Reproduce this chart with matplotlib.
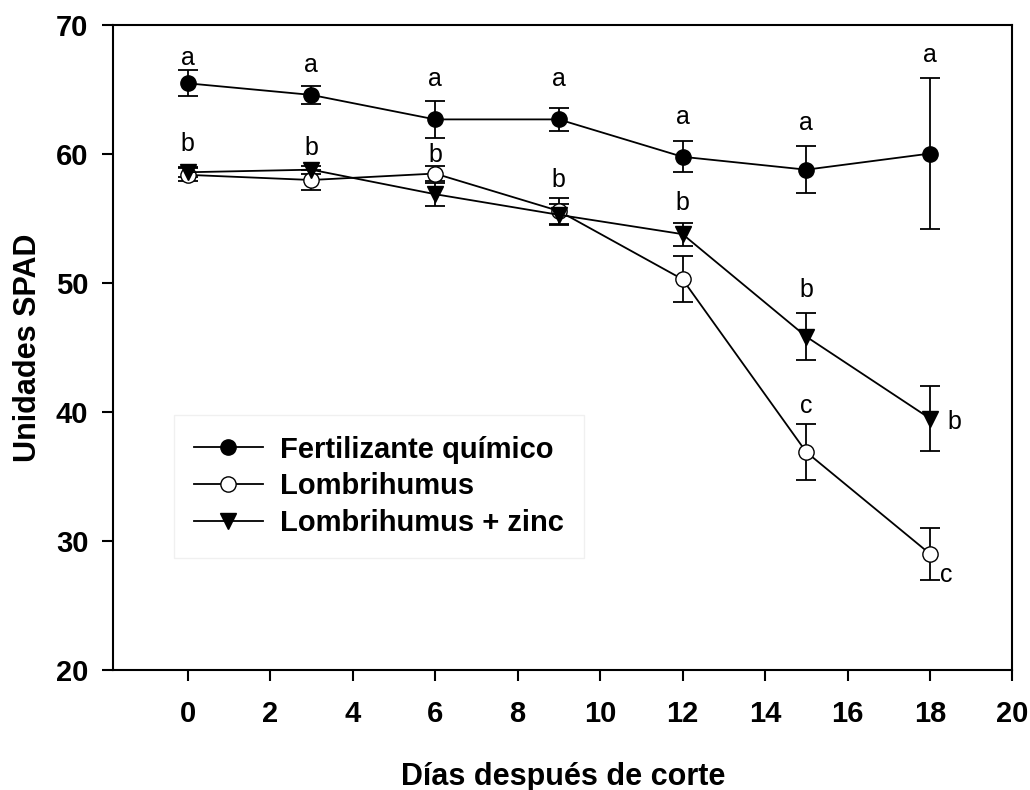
import numpy as np
import matplotlib
matplotlib.use("Agg")
import matplotlib.pyplot as plt

plt.rcParams['font.family'] = ['Liberation Sans', 'DejaVu Sans']

dias = [0, 3, 6, 9, 12, 15, 18]

# Fertilizante quimico
fert = [65.5, 64.6, 62.7, 62.7, 59.8, 58.8, 60.05]
fert_err = [1.0, 0.7, 1.45, 0.9, 1.2, 1.8, 5.85]
# Lombrihumus
lomb = [58.4, 58.0, 58.5, 55.6, 50.3, 36.9, 29.0]
lomb_err = [0.5, 0.8, 0.6, 1.0, 1.8, 2.2, 2.0]
# Lombrihumus + zinc
zinc = [58.6, 58.8, 56.9, 55.3, 53.8, 45.85, 39.5]
zinc_err = [0.4, 0.3, 0.9, 0.8, 0.9, 1.85, 2.5]

nombres = ["Fertilizante químico", "Lombrihumus", "Lombrihumus + zinc"]

# letras de significancia (x, y, letra)
letras_x = [0, 3, 6, 9, 12, 15, 18, 0, 3, 6, 9, 12, 15, 15, 18.6, 18.4]
letras_y = [67.5, 66.9, 65.8, 65.8, 62.9, 62.4, 67.7, 60.8, 60.5, 59.9, 58.0, 56.2, 49.5, 40.5, 39.2, 27.4]
letras = ["a", "a", "a", "a", "a", "a", "a", "b", "b", "b", "b", "b", "b", "c", "b", "c"]

fig = plt.figure(figsize=(10.3, 7.9), dpi=100)
ax = fig.add_axes([0.110, 0.152, 0.873, 0.816])

estilo = dict(color="black", lw=1.3, capsize=7, elinewidth=1.3, capthick=1.3, markersize=11)
ax.errorbar(dias, fert, yerr=fert_err, marker="o", mfc="black", mec="black", label=nombres[0], **estilo)
ax.errorbar(dias, lomb, yerr=lomb_err, marker="o", mfc="white", mec="black", label=nombres[1], **estilo)
ax.errorbar(dias, zinc, yerr=zinc_err, marker="v", mfc="black", mec="black", label=nombres[2], **estilo)

for x, y, t in zip(letras_x, letras_y, letras):
    ax.text(x, y, t, ha="center", va="center", fontsize=18)

ax.set_xlim(-1.8, 20)
ax.set_ylim(20, 70)
ax.set_xticks(np.arange(0, 21, 2))
ax.set_yticks(np.arange(20, 71, 10))
ax.tick_params(direction="out", length=8, width=1.5, pad=10, labelsize=21)
ax.tick_params(axis="x", pad=14)
for lab in ax.get_xticklabels() + ax.get_yticklabels():
    lab.set_fontweight("bold")
for s in ax.spines.values():
    s.set_linewidth(1.5)

ax.set_xlabel("Días después de corte", fontsize=22, fontweight="bold", labelpad=24)
ax.set_ylabel("Unidades SPAD", fontsize=22, fontweight="bold", labelpad=9)

handles, labels = ax.get_legend_handles_labels()
handles = [h[0] for h in handles]
leg = ax.legend(handles, labels, loc="upper left", bbox_to_anchor=(0.067, 0.395),
                prop={"weight": "bold", "size": 21}, handlelength=2.35, handletextpad=0.6,
                labelspacing=0.3, borderpad=0.7, borderaxespad=0, fancybox=False,
                framealpha=1, markerscale=1.0)
leg.get_frame().set_edgecolor("#f0f0f0")
leg.get_frame().set_linewidth(1.0)

fig.savefig("out.png", dpi=100)
